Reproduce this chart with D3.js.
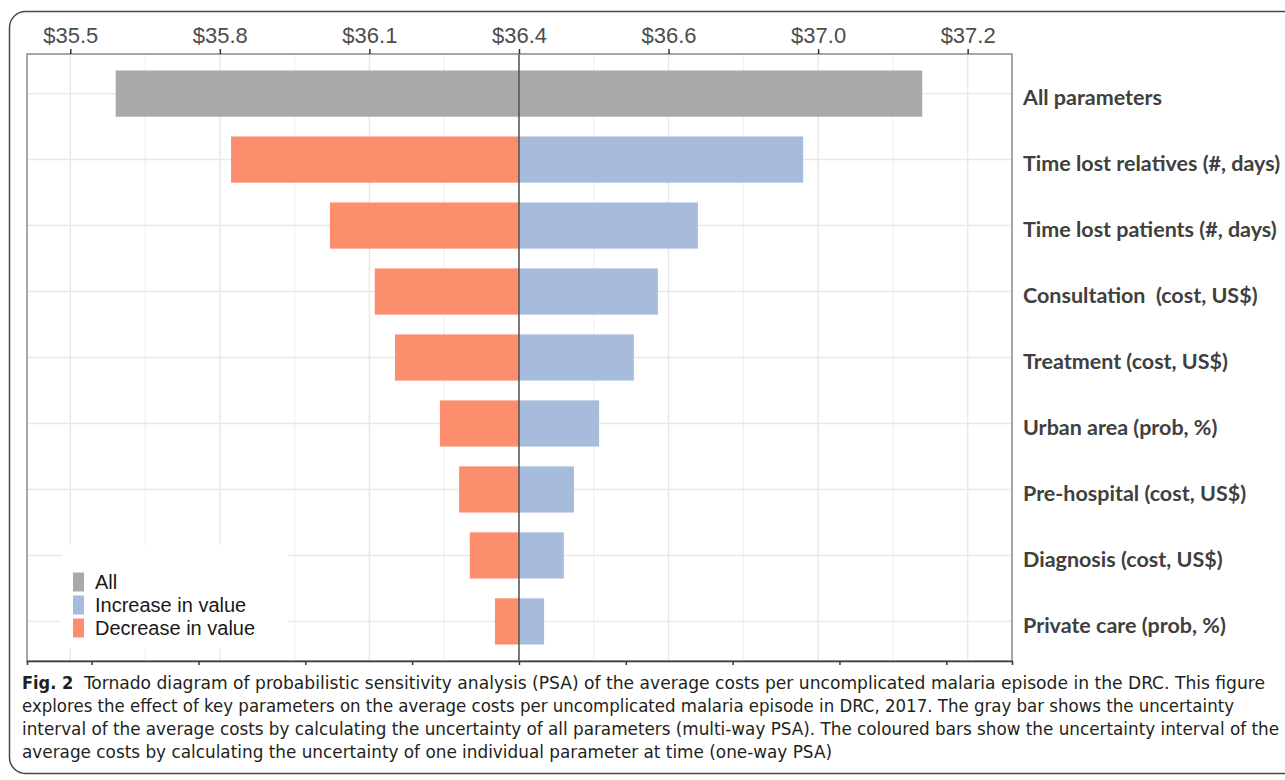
<!DOCTYPE html>
<html>
<head>
<meta charset="utf-8">
<script src="https://cdn.jsdelivr.net/npm/d3@7"></script>
<style>
  body { margin: 0; background: #fff; }
</style>
</head>
<body>
<svg id="chart"></svg>
<script>
// Data (US$ per episode)
const baseCost = 36.4;
const params = [
    "All parameters",
    "Time lost relatives (#, days)",
    "Time lost patients (#, days)",
    "Consultation  (cost, US$)",
    "Treatment (cost, US$)",
    "Urban area (prob, %)",
    "Pre-hospital (cost, US$)",
    "Diagnosis (cost, US$)",
    "Private care (prob, %)"
];
const lowValues = [35.645, 35.861, 36.046, 36.130, 36.168, 36.252, 36.288, 36.308, 36.355];
const highValues = [37.155, 36.932, 36.735, 36.660, 36.615, 36.550, 36.503, 36.484, 36.447];

const topTickValues = [35.56, 35.84, 36.12, 36.40, 36.68, 36.96, 37.24];
const topTickLabels = ["$35.5", "$35.8", "$36.1", "$36.4", "$36.6", "$37.0", "$37.2"];
const bottomTickValues = [35.6, 35.8, 36.0, 36.2, 36.4, 36.6, 36.8, 37.0, 37.2];

const legendLabels = ["All", "Increase in value", "Decrease in value"];
const legendColors = ["#a9a9a9", "#a7bcdc", "#fc8d6d"];

const captionLines = [
    "Tornado diagram of probabilistic sensitivity analysis (PSA) of the average costs per uncomplicated malaria episode in the DRC. This figure",
    "explores the effect of key parameters on the average costs per uncomplicated malaria episode in DRC, 2017. The gray bar shows the uncertainty",
    "interval of the average costs by calculating the uncertainty of all parameters (multi-way PSA). The coloured bars show the uncertainty interval of the",
    "average costs by calculating the uncertainty of one individual parameter at time (one-way PSA)"
];

// Set dimensions
const width = 1285;
const height = 780;
const plot = { left: 27, right: 1012, top: 54, bottom: 661 };

const svg = d3.select("#chart")
    .attr("width", width)
    .attr("height", height);

// Outer figure frame
svg.append("rect")
    .attr("x", 9.5)
    .attr("y", 11.5)
    .attr("width", 1320)
    .attr("height", 762)
    .attr("rx", 16)
    .attr("fill", "none")
    .attr("stroke", "#4a4a4a")
    .attr("stroke-width", 1.5);

// Scales
const xScale = d3.scaleLinear()
    .domain([35.479, 37.323])
    .range([plot.left, plot.right]);

const yScale = d3.scalePoint()
    .domain(params)
    .range([plot.top, plot.bottom])
    .padding(0.6);

const barHeight = yScale.step() * 0.7;

// Gridlines
const minorTicks = d3.pairs(topTickValues).map(p => (p[0] + p[1]) / 2);
svg.append("g")
    .selectAll("line")
    .data(minorTicks)
    .join("line")
    .attr("x1", d => xScale(d)).attr("x2", d => xScale(d))
    .attr("y1", plot.top).attr("y2", plot.bottom)
    .attr("stroke", "#f1f1f1")
    .attr("stroke-width", 1.2);

svg.append("g")
    .selectAll("line")
    .data(topTickValues)
    .join("line")
    .attr("x1", d => xScale(d)).attr("x2", d => xScale(d))
    .attr("y1", plot.top).attr("y2", plot.bottom)
    .attr("stroke", "#e8e8e8")
    .attr("stroke-width", 1.4);

svg.append("g")
    .selectAll("line")
    .data(params)
    .join("line")
    .attr("x1", plot.left).attr("x2", plot.right)
    .attr("y1", d => yScale(d)).attr("y2", d => yScale(d))
    .attr("stroke", "#e8e8e8")
    .attr("stroke-width", 1.4);

// Legend background hides the grid under it
svg.append("rect")
    .attr("x", 61)
    .attr("y", 545)
    .attr("width", 227)
    .attr("height", 104)
    .attr("fill", "#fff");

// Bars
const bars = svg.append("g");
params.forEach((p, i) => {
    const y = yScale(p) - barHeight / 2;
    if (i === 0) {
        bars.append("rect")
            .attr("x", xScale(lowValues[i]))
            .attr("y", y)
            .attr("width", xScale(highValues[i]) - xScale(lowValues[i]))
            .attr("height", barHeight)
            .attr("fill", legendColors[0]);
        return;
    }
    bars.append("rect")
        .attr("x", xScale(lowValues[i]))
        .attr("y", y)
        .attr("width", xScale(baseCost) - xScale(lowValues[i]))
        .attr("height", barHeight)
        .attr("fill", legendColors[2]);
    bars.append("rect")
        .attr("x", xScale(baseCost))
        .attr("y", y)
        .attr("width", xScale(highValues[i]) - xScale(baseCost))
        .attr("height", barHeight)
        .attr("fill", legendColors[1]);
});

// Base cost line
svg.append("line")
    .attr("x1", xScale(baseCost)).attr("x2", xScale(baseCost))
    .attr("y1", plot.top).attr("y2", plot.bottom)
    .attr("stroke", "#505050")
    .attr("stroke-width", 1.5);

// Panel border
svg.append("rect")
    .attr("x", plot.left)
    .attr("y", plot.top)
    .attr("width", plot.right - plot.left)
    .attr("height", plot.bottom - plot.top)
    .attr("fill", "none")
    .attr("stroke", "#8a8a8a")
    .attr("stroke-width", 1.5);

// Top axis
const topAxis = svg.append("g")
    .attr("transform", `translate(0,${plot.top})`)
    .call(d3.axisTop(xScale)
        .tickValues(topTickValues)
        .tickFormat((d, i) => topTickLabels[i])
        .tickSize(5)
        .tickPadding(6));
topAxis.select(".domain").remove();
topAxis.selectAll("line").attr("stroke", "#333").attr("stroke-width", 1.5);
topAxis.selectAll("text")
    .attr("fill", "#4d4d4d")
    .style("font-family", "'Liberation Sans', Arial, sans-serif")
    .style("font-size", "22px");

// Bottom axis (labels cut off in the figure)
const bottomAxis = svg.append("g")
    .attr("transform", `translate(0,${plot.bottom})`)
    .call(d3.axisBottom(xScale)
        .tickValues(bottomTickValues)
        .tickFormat("")
        .tickSizeOuter(0)
        .tickSize(4));
bottomAxis.select(".domain").attr("stroke", "#3a3a3a").attr("stroke-width", 1.6);
bottomAxis.selectAll("line").attr("stroke", "#3a3a3a").attr("stroke-width", 1.5);

// Parameter labels on the right
svg.append("g")
    .selectAll("text")
    .data(params)
    .join("text")
    .attr("x", 1023)
    .attr("y", d => yScale(d) + 4)
    .attr("dy", "0.36em")
    .attr("fill", "#404040")
    .style("font-family", "Lato, 'Open Sans', sans-serif")
    .style("font-weight", "bold")
    .style("font-size", "21.5px")
    .style("white-space", "pre")
    .text(d => d);

// Legend
const legend = svg.append("g");
legendLabels.forEach((label, i) => {
    const cy = 582 + i * 23;
    legend.append("rect")
        .attr("x", 73)
        .attr("y", cy - 9.5)
        .attr("width", 11)
        .attr("height", 19)
        .attr("fill", legendColors[i]);
    legend.append("text")
        .attr("x", 95)
        .attr("y", cy)
        .attr("dy", "0.36em")
        .attr("fill", "#1a1a1a")
        .style("font-family", "'Liberation Sans', Arial, sans-serif")
        .style("font-size", "20px")
        .text(label);
});

// Caption
const captionFont = "'Liberation Sans Narrow', 'DejaVu Sans Condensed', sans-serif";
const captionEnds = [1265, 1234, 1279, 832];
svg.append("text")
    .attr("x", 22)
    .attr("y", 689)
    .attr("fill", "#231f20")
    .style("font-family", captionFont)
    .style("font-size", "18px")
    .style("font-weight", "bold")
    .text("Fig. 2");

captionLines.forEach((line, i) => {
    const x0 = i === 0 ? 84 : 22;
    svg.append("text")
        .attr("x", x0)
        .attr("y", 689 + i * 23)
        .attr("fill", "#231f20")
        .attr("textLength", captionEnds[i] - x0)
        .attr("lengthAdjust", "spacingAndGlyphs")
        .style("font-family", captionFont)
        .style("font-size", "17px")
        .text(line);
});
</script>
</body>
</html>
